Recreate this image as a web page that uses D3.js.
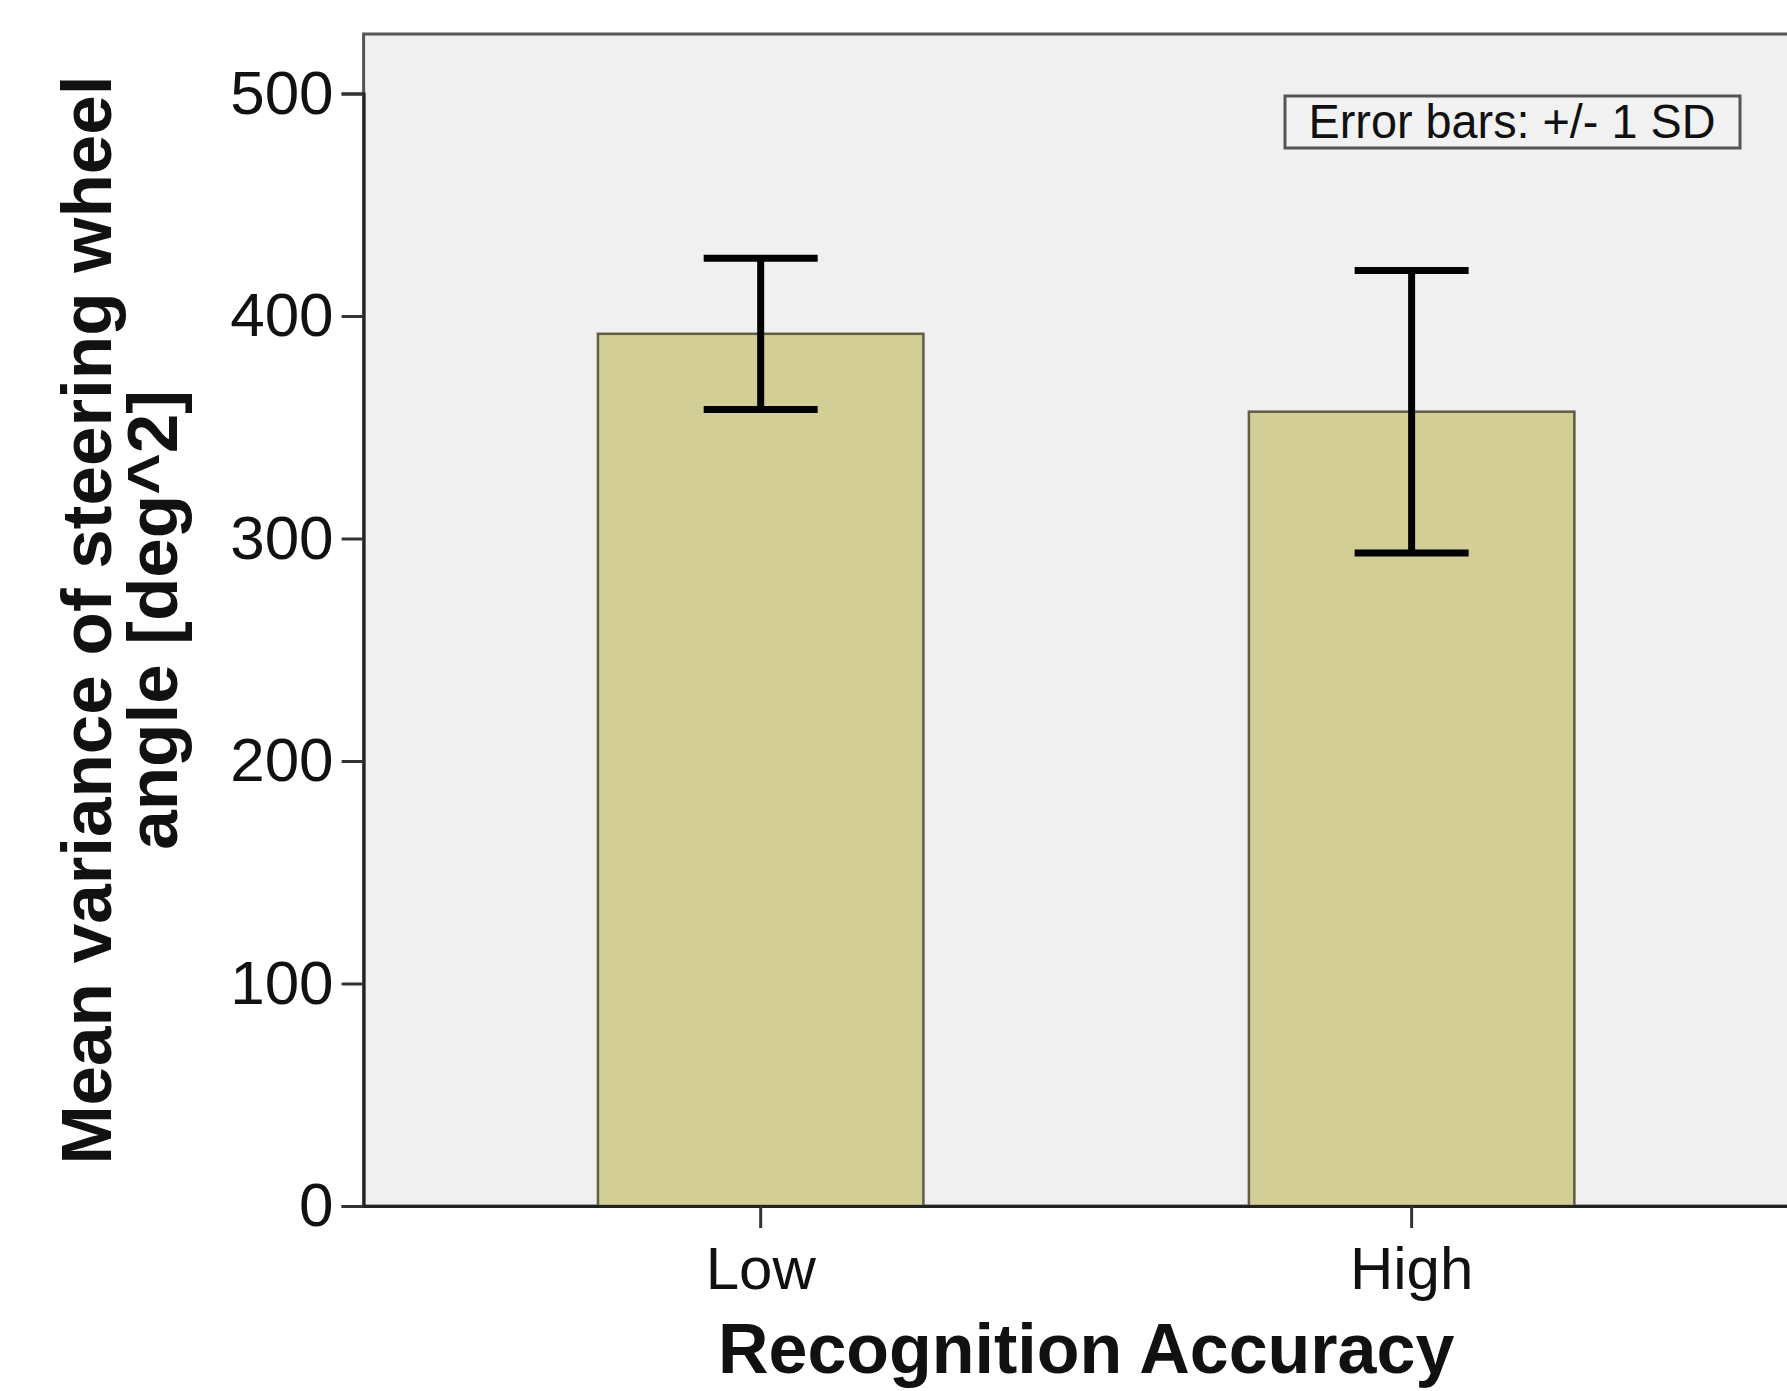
<!DOCTYPE html>
<html>
<head>
<meta charset="utf-8">
<script src="https://cdn.jsdelivr.net/npm/d3@7"></script>
<style>
  html, body { margin: 0; padding: 0; background: #ffffff; }
  svg { display: block; }
  text { font-family: "Liberation Sans", Arial, sans-serif; fill: #111; }
</style>
</head>
<body>
<script>
// ---- data ----
const categories = ["Low", "High"];
const means = [392, 357];
const sds = [34, 63.5];
const yTicks = [0, 100, 200, 300, 400, 500];
const xTitle = "Recognition Accuracy";
const yTitleLines = ["Mean variance of steering wheel", "angle [deg^2]"];
const noteText = "Error bars: +/- 1 SD";

// ---- layout ----
const W = 1787, H = 1391;
const plot = { left: 363.6, top: 34, right: 1808.7, bottom: 1206 };

const svg = d3.select("body").append("svg")
  .attr("width", W).attr("height", H);

const x = d3.scaleBand()
  .domain(categories)
  .range([plot.left, plot.right])
  .paddingInner(0.5)
  .paddingOuter(0.36);

const y = d3.scaleLinear()
  .domain([0, 500])
  .range([plot.bottom, plot.bottom - 1112.5]);

// plot background
svg.append("rect")
  .attr("x", plot.left).attr("y", plot.top)
  .attr("width", plot.right - plot.left)
  .attr("height", plot.bottom - plot.top)
  .attr("fill", "#f0f0f0")
  .attr("stroke", "#555")
  .attr("stroke-width", 3);

// bars
const rows = categories.map((c, i) => ({ c, m: means[i], sd: sds[i] }));
svg.selectAll("rect.bar").data(rows).enter().append("rect")
  .attr("class", "bar")
  .attr("x", d => x(d.c))
  .attr("y", d => y(d.m))
  .attr("width", x.bandwidth())
  .attr("height", d => y(0) - y(d.m))
  .attr("fill", "#d3ce96")
  .attr("stroke", "#5f5d44")
  .attr("stroke-width", 2.5);

// error bars
const capW = 114;
const eb = svg.selectAll("g.eb").data(rows).enter().append("g").attr("class", "eb")
  .attr("stroke", "#000").attr("stroke-width", 7).attr("fill", "none");
eb.append("line")
  .attr("x1", d => x(d.c) + x.bandwidth() / 2)
  .attr("x2", d => x(d.c) + x.bandwidth() / 2)
  .attr("y1", d => y(d.m + d.sd))
  .attr("y2", d => y(d.m - d.sd));
eb.append("line")
  .attr("x1", d => x(d.c) + x.bandwidth() / 2 - capW / 2)
  .attr("x2", d => x(d.c) + x.bandwidth() / 2 + capW / 2)
  .attr("y1", d => y(d.m + d.sd)).attr("y2", d => y(d.m + d.sd));
eb.append("line")
  .attr("x1", d => x(d.c) + x.bandwidth() / 2 - capW / 2)
  .attr("x2", d => x(d.c) + x.bandwidth() / 2 + capW / 2)
  .attr("y1", d => y(d.m - d.sd)).attr("y2", d => y(d.m - d.sd));

// y axis
const yAxis = svg.append("g")
  .attr("transform", `translate(${plot.left},0)`)
  .call(d3.axisLeft(y).tickValues(yTicks).tickSize(22).tickPadding(8).tickFormat(d3.format("d")));
yAxis.select(".domain").attr("stroke", "#222").attr("stroke-width", 3);
yAxis.selectAll(".tick line").attr("stroke", "#333").attr("stroke-width", 3);
yAxis.selectAll(".tick text")
  .style("font-size", "62px").attr("fill", "#111");

// x axis
const xAxis = svg.append("g")
  .attr("transform", `translate(0,${plot.bottom})`)
  .call(d3.axisBottom(x).tickSize(22).tickPadding(18).tickSizeOuter(0));
xAxis.select(".domain").attr("stroke", "#222").attr("stroke-width", 3);
xAxis.selectAll(".tick line").attr("stroke", "#333").attr("stroke-width", 3);
xAxis.selectAll(".tick text")
  .style("font-size", "60px").attr("fill", "#111");

// x title
svg.append("text")
  .attr("x", (plot.left + plot.right) / 2)
  .attr("y", 1373)
  .attr("text-anchor", "middle")
  .style("font-size", "70px").style("font-weight", "bold")
  .text(xTitle);

// y title (two lines)
const ycen = 620;
yTitleLines.forEach((t, i) => {
  svg.append("text")
    .attr("transform", `translate(${110.5 + i * 66},${ycen}) rotate(-90)`)
    .attr("text-anchor", "middle")
    .style("font-size", "71px").style("font-weight", "bold")
    .text(t);
});

// note box
svg.append("rect")
  .attr("x", 1285).attr("y", 96)
  .attr("width", 455).attr("height", 52)
  .attr("fill", "#f2f2f2")
  .attr("stroke", "#555").attr("stroke-width", 3);
svg.append("text")
  .attr("x", 1512).attr("y", 138)
  .attr("text-anchor", "middle")
  .attr("textLength", 407)
  .attr("lengthAdjust", "spacingAndGlyphs")
  .style("font-size", "48px").attr("fill", "#222")
  .text(noteText);
</script>
</body>
</html>
